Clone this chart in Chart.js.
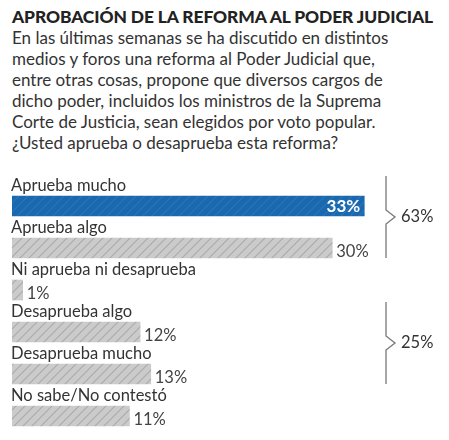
<!DOCTYPE html>
<html>
<head>
<meta charset="utf-8">
<script src="https://cdn.jsdelivr.net/npm/chart.js@4"></script>
<style>
  body { margin:0; background:#fff; width:449px; height:440px; overflow:hidden; font-family:Lato, "Open Sans", sans-serif; }
  #head { position:absolute; left:12px; top:6px; width:437px; color:#333; }
  #head h1 { margin:0; font-size:17.4px; font-weight:900; color:#222; line-height:21px; letter-spacing:-0.1px; }
  #head p { margin:0; font-size:17px; line-height:21px; letter-spacing:0; }
  #chartRoot { position:absolute; left:0; top:170px; width:449px; height:270px; }
</style>
</head>
<body>
<div id="head">
  <h1>APROBACIÓN DE LA REFORMA AL PODER JUDICIAL</h1>
  <p>En las últimas semanas se ha discutido en distintos<br>medios y foros una reforma al Poder Judicial que,<br>entre otras cosas, propone que diversos cargos de<br>dicho poder, incluidos los ministros de la Suprema<br>Corte de Justicia, sean elegidos por voto popular.<br>¿Usted aprueba o desaprueba esta reforma?</p>
</div>
<div id="chartRoot"><canvas id="myChart" width="449" height="270"></canvas></div>
<script>
const labels = ['Aprueba mucho', 'Aprueba algo', 'Ni aprueba ni desaprueba', 'Desaprueba algo', 'Desaprueba mucho', 'No sabe/No contestó'];
const values = [33, 30, 1, 12, 13, 11];
// brackets: first and last row of each group, and printed total
const groupRows = [[0, 1], [3, 4]];
const groupTotals = [63, 25];

function hatch(base, line){
	const c = document.createElement('canvas');
	c.width = 9; c.height = 9;
	const g = c.getContext('2d');
	g.fillStyle = base;
	g.fillRect(0, 0, 9, 9);
	g.strokeStyle = line;
	g.lineWidth = 1.1;
	g.beginPath();
	g.moveTo(-2, 11); g.lineTo(11, -2);
	g.moveTo(-2, 2); g.lineTo(2, -2);
	g.moveTo(7, 11); g.lineTo(11, 7);
	g.stroke();
	return g.createPattern(c, 'repeat');
}
const blue = hatch('#1a68ae', '#2a76ba');
const gray = hatch('#cbcbcb', '#aaaaaa');

const decor = {
	id: 'decor',
	afterDatasetsDraw(chart){
		const ctx = chart.ctx;
		const meta = chart.getDatasetMeta(0);
		ctx.save();
		ctx.textBaseline = 'middle';
		meta.data.forEach((bar, i) => {
			const top = bar.y - bar.height / 2;
			ctx.font = '16.5px Lato, sans-serif';
			ctx.fillStyle = '#333';
			ctx.textAlign = 'left';
			ctx.fillText(labels[i], 11, top - 10);
			if (i === 0) {
				ctx.font = 'bold 17px Lato, sans-serif';
				ctx.fillStyle = '#fff';
				ctx.textAlign = 'right';
				ctx.fillText(values[i] + '%', bar.x - 4, bar.y + 1);
			} else {
				ctx.font = '16.5px Lato, sans-serif';
				ctx.fillStyle = '#444';
				ctx.fillText(values[i] + '%', bar.x + 4, bar.y + 4);
			}
		});
		// brackets
		ctx.strokeStyle = '#777';
		ctx.lineWidth = 1.3;
		groupRows.forEach((g, k) => {
			const a = meta.data[g[0]], b = meta.data[g[1]];
			const y1 = a.y - a.height / 2 - 20;
			const y2 = b.y + b.height / 2;
			const ym = (y1 + y2) / 2;
			const x = 386;
			ctx.beginPath();
			ctx.moveTo(x, y1);
			ctx.lineTo(x, ym - 7);
			ctx.lineTo(x + 9, ym);
			ctx.lineTo(x, ym + 7);
			ctx.lineTo(x, y2);
			ctx.stroke();
			ctx.font = '16.5px Lato, sans-serif';
			ctx.fillStyle = '#333';
			ctx.textAlign = 'left';
			ctx.fillText(groupTotals[k] + '%', 401, ym);
		});
		ctx.restore();
	}
};

new Chart(document.getElementById('myChart'), {
	type: 'bar',
	data: {
		labels: labels,
		datasets: [{
			data: values,
			backgroundColor: values.map((v, i) => i === 0 ? blue : gray),
			barThickness: 20,
			borderWidth: 0
		}]
	},
	options: {
		indexAxis: 'y',
		responsive: false,
		animation: false,
		layout: { padding: { left: 12, right: 10, top: 15, bottom: 3 } },
		scales: {
			x: { display: false, min: 0, max: 40 },
			y: { display: false }
		},
		plugins: {
			legend: { display: false },
			tooltip: { enabled: false }
		}
	},
	plugins: [decor]
});
</script>
</body>
</html>
